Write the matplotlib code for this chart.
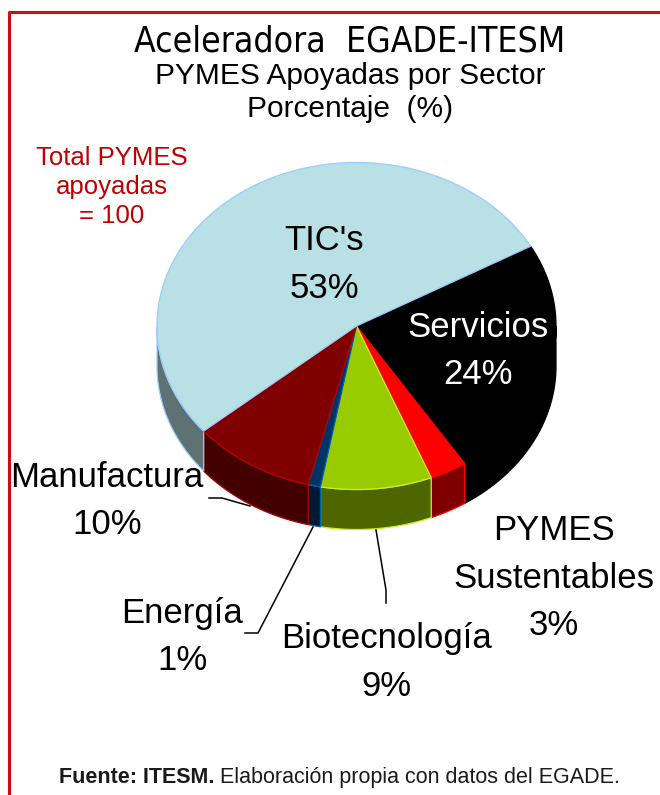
import numpy as np
import matplotlib
matplotlib.use('Agg')
import matplotlib.pyplot as plt
from matplotlib.patches import Polygon
from matplotlib.lines import Line2D

# data (clockwise, starting at the TIC's / Servicios boundary)
sectors = ['Servicios', 'PYMES\nSustentables', 'Biotecnología', 'Energía', 'Manufactura', "TIC's"]
shares = [24, 3, 9, 1, 10, 53]
top_colors = ['#000000', '#FF0000', '#99CC00', '#003366', '#800000', '#B9E0E4']
side_colors = ['#000000', '#800000', '#4D6600', '#001A33', '#420000', '#5E7274']
edge_colors = ['#000000', '#FF0000', '#C8F020', '#0060B0', '#B00000', '#99CCFF']
label_colors = ['white', 'black', 'black', 'black', 'black', 'black']

title_lines = ['Aceleradora  EGADE-ITESM', 'PYMES Apoyadas por Sector', 'Porcentaje  (%)']
total_note = ['Total PYMES', 'apoyadas', '= %d' % sum(shares)]
source_bold = 'Fuente: ITESM.'
source_text = ' Elaboración propia con datos del EGADE.'

ARIAL = ['Liberation Sans', 'DejaVu Sans']

fig = plt.figure(figsize=(6.6, 7.95), dpi=100)
ax = fig.add_axes([0, 0, 1, 1])
ax.set_xlim(0, 660)
ax.set_ylim(795, 0)
ax.axis('off')

# red frame (only left and top edges fall inside the picture)
fig.add_artist(Line2D([9 / 660, 9 / 660, 1.0], [0.0, 1 - 12 / 795, 1 - 12 / 795],
                      transform=fig.transFigure, color='#C81010', lw=2.2))

# 3D pie geometry
cx, cy, rx, ry, depth = 356.5, 326, 199.5, 163.5, 40
start = 29.2

def arc(t, dy=0):
    return np.column_stack([cx + rx * np.cos(t), cy - ry * np.sin(t) + dy])

bounds = start - np.concatenate([[0], np.cumsum(shares)]) * 3.6
tops = []
for i in range(len(shares)):
    t = np.radians(np.linspace(bounds[i], bounds[i + 1], 400))
    front = np.sin(t) < 0
    # split the arc into runs that face the viewer
    idx = np.flatnonzero(np.diff(front.astype(int))) + 1
    for seg_t, seg_f in zip(np.split(t, idx), np.split(front, idx)):
        if seg_f[0] and len(seg_t) > 1:
            pts = np.vstack([arc(seg_t), arc(seg_t[::-1], depth)])
            ax.add_patch(Polygon(pts, closed=True, fc=side_colors[i],
                                 ec=edge_colors[i], lw=0.9, zorder=2))
    pts = np.vstack([[cx, cy], arc(t)])
    tops.append(Polygon(pts, closed=True, fc=top_colors[i], ec=edge_colors[i],
                        lw=0.9, zorder=3))
for p in tops:
    ax.add_patch(p)

# labels: (center x, first baseline)
label_pos = [(478, 337), (554, 540), (386, 648), (182, 623), (107, 487), (324, 250)]
step = 47.5
for name, v, (x, y0), c in zip(sectors, shares, label_pos, label_colors):
    lines = name.split('\n') + ['%d%%' % v]
    for k, s in enumerate(lines):
        ax.text(x, y0 + k * step, s, ha='center', va='baseline', fontsize=25,
                family=ARIAL, color=c, zorder=5)

# leader lines
leaders = [
    ([209, 222, 250], [498, 498, 506]),
    ([245, 258, 313], [633, 633, 527]),
    ([386, 386, 376], [603, 590, 530]),
]
for xs, ys in leaders:
    ax.plot(xs, ys, color='black', lw=1.1, zorder=4)

# title (first line in a narrow face)
ax.text(350, 51, title_lines[0], ha='center', va='baseline', fontsize=25.5,
        family='DejaVu Sans', stretch='condensed', color='black')
for s, y in zip(title_lines[1:], [84, 117]):
    ax.text(350, y, s, ha='center', va='baseline', fontsize=21.5, family=ARIAL, color='black')

for k, s in enumerate(total_note):
    ax.text(112, 165 + k * 29, s, ha='center', va='baseline', fontsize=18.5,
            family=ARIAL, color='#C00000')

# source note
t1 = ax.text(59, 783, source_bold, ha='left', va='baseline', fontsize=15.5,
             family=ARIAL, weight='bold', color='#1A1A1A')
ax.annotate(source_text, xy=(1, 0), xycoords=t1, ha='left', va='bottom',
            fontsize=15.5, family=ARIAL, color='#1A1A1A')

fig.savefig('out.png', dpi=100)
